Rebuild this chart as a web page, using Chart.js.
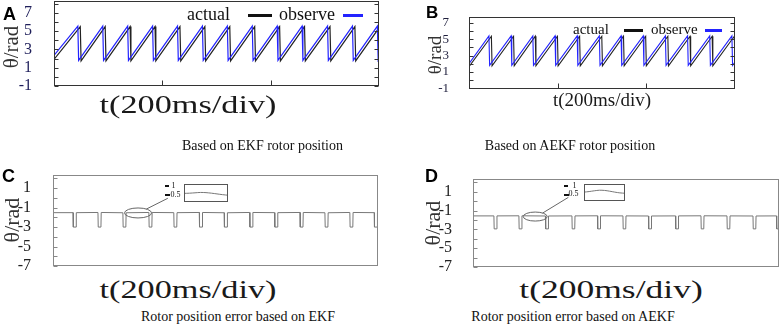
<!DOCTYPE html>
<html>
<head>
<meta charset="UTF-8">
<title>Rotor position EKF / AEKF</title>
<script src="https://cdn.jsdelivr.net/npm/chart.js@4.4.0/dist/chart.umd.min.js"></script>
<style>
  body { margin: 0; background: #fff; }
  #fig { position: relative; width: 782px; height: 331px; overflow: hidden; background: #fff;
         font-family: "Liberation Serif", "Times New Roman", serif; }
  #fig canvas { position: absolute; }
  .t { position: absolute; white-space: nowrap; line-height: 1; color: #111; }
  .letter { font-family: "Liberation Sans", Arial, sans-serif; font-weight: bold; font-size: 18px; color: #000; }
  .ytitle { transform: translate(-50%, -50%) rotate(-90deg); color: #333; }
  .center { transform: translateX(-50%); }
  .xtitle { color: #1a1a1a; transform-origin: center top; }
  .bar { position: absolute; height: 3px; }
</style>
</head>
<body>
<div id="fig">
  <canvas id="chartA" width="390" height="92" style="left:0;top:0"></canvas>
  <canvas id="chartB" width="382" height="95" style="left:400px;top:0"></canvas>
  <canvas id="chartC" width="390" height="112" style="left:0;top:160px"></canvas>
  <canvas id="chartD" width="382" height="112" style="left:400px;top:160px"></canvas>
  <canvas id="insetC" width="44" height="18" style="left:184px;top:184px"></canvas>
  <canvas id="insetD" width="41" height="17" style="left:584px;top:184px"></canvas>

  <!-- panel A -->
  <div class="t letter" style="left:3px;top:4.8px">A</div>
  <div class="t ytitle" style="left:11px;top:46.5px;font-size:21px">θ/rad</div>
  <div class="t" style="left:187px;top:4.9px;font-size:18px">actual</div>
  <div class="bar" style="left:248px;top:14px;width:24px;background:#111"></div>
  <div class="t" style="left:279px;top:4.9px;font-size:18px">observe</div>
  <div class="bar" style="left:343px;top:14px;width:20px;background:#2323ff"></div>
  <div class="t xtitle" style="left:188px;top:91.6px;font-size:25px;transform:translateX(-50%) scaleX(1.37)">t(200ms/div)</div>
  <div class="t center" style="left:262.5px;top:139px;font-size:14px">Based on EKF rotor position</div>

  <!-- panel B -->
  <div class="t letter" style="left:426px;top:3.9px;font-size:17px">B</div>
  <div class="t ytitle" style="left:433.5px;top:55px;font-size:19px">θ/rad</div>
  <div class="t" style="left:573px;top:21.9px;font-size:15px">actual</div>
  <div class="bar" style="left:624px;top:29px;width:19px;background:#111"></div>
  <div class="t" style="left:651px;top:21.9px;font-size:15px">observe</div>
  <div class="bar" style="left:705px;top:29px;width:17px;background:#2323ff"></div>
  <div class="t xtitle center" style="left:602px;top:90.4px;font-size:19px">t(200ms/div)</div>
  <div class="t center" style="left:570px;top:139px;font-size:14px">Based on AEKF rotor position</div>

  <!-- panel C -->
  <div class="t letter" style="left:2px;top:166.8px">C</div>
  <div class="t ytitle" style="left:11.5px;top:220px;font-size:22px">θ/rad</div>
  <div class="t xtitle" style="left:188px;top:276.6px;font-size:25px;transform:translateX(-50%) scaleX(1.37)">t(200ms/div)</div>
  <div class="t center" style="left:238px;top:310.3px;font-size:14px">Rotor position error based on EKF</div>
  <div class="bar" style="left:165px;top:185px;width:4px;height:2px;background:#111"></div>
  <div class="bar" style="left:165px;top:194px;width:5px;height:2px;background:#111"></div>
  <div class="t" style="left:171.5px;top:181.5px;font-size:8px">1</div>
  <div class="t" style="left:170.5px;top:190.5px;font-size:8px">0.5</div>

  <!-- panel D -->
  <div class="t letter" style="left:425px;top:166.8px">D</div>
  <div class="t ytitle" style="left:432.5px;top:222.5px;font-size:22px">θ/rad</div>
  <div class="t xtitle" style="left:611px;top:276.6px;font-size:25px;transform:translateX(-50%) scaleX(1.42)">t(200ms/div)</div>
  <div class="t center" style="left:573px;top:310.3px;font-size:14px">Rotor position error based on AEKF</div>
  <div class="bar" style="left:564px;top:185px;width:4px;height:2px;background:#111"></div>
  <div class="bar" style="left:564px;top:193.5px;width:5px;height:2px;background:#111"></div>
  <div class="t" style="left:572.5px;top:181.5px;font-size:8px">1</div>
  <div class="t" style="left:568.5px;top:190px;font-size:8px">0.5</div>
</div>

<script>
// tick labels
const posTicks = [-1, 1, 3, 5, 7];
const errTicks = [1, -1, -3, -5, -7];

// EKF rotor position (ms, rad)
const ekfObserveT = [0, 44, 45.5, 90, 91.5, 136, 137.5, 182, 183.5, 228, 229.5, 274, 275.5, 320, 321.5,
  366, 367.5, 412, 413.5, 458, 459.5, 505, 506.5, 551, 552.5, 597, 598.5, 600];
const ekfObserveV = [2.35, 5.55, 1.8, 5.55, 1.8, 5.55, 1.8, 5.55, 1.8, 5.55, 1.8, 5.55, 1.8, 5.55, 1.8,
  5.55, 1.8, 5.55, 1.8, 5.55, 1.8, 5.55, 1.8, 5.55, 1.8, 5.55, 1.8, 1.92];
const ekfActualT = [0, 48.5, 50, 94.5, 96, 140.5, 142, 186.5, 188, 232.5, 234, 278.5, 280, 324.5, 326,
  370.5, 372, 416.5, 418, 462.5, 464, 509.5, 511, 555.5, 557, 600];
const ekfActualV = [1.9, 5.5, 1.75, 5.5, 1.75, 5.5, 1.75, 5.5, 1.75, 5.5, 1.75, 5.5, 1.75, 5.5, 1.75,
  5.5, 1.75, 5.5, 1.75, 5.5, 1.75, 5.5, 1.75, 5.5, 1.75, 5.35];

// AEKF rotor position
const aekfObserveT = [0, 45, 46.5, 95, 96.5, 144, 145.5, 194, 195.5, 244, 245.5, 294, 295.5, 343, 344.5,
  393, 394.5, 443, 444.5, 493, 494.5, 543, 544.5, 593, 594.5, 600];
const aekfObserveV = [2.0, 5.4, 1.8, 5.4, 1.8, 5.4, 1.8, 5.4, 1.8, 5.4, 1.8, 5.4, 1.8, 5.4, 1.8,
  5.4, 1.8, 5.4, 1.8, 5.4, 1.8, 5.4, 1.8, 5.4, 1.8, 2.2];
const aekfActualT = [0, 50.5, 52, 100.5, 102, 149.5, 151, 199.5, 201, 249.5, 251, 299.5, 301, 348.5, 350,
  398.5, 400, 448.5, 450, 498.5, 500, 548.5, 550, 598.5, 600];
const aekfActualV = [1.65, 5.35, 1.75, 5.35, 1.75, 5.35, 1.75, 5.35, 1.75, 5.35, 1.75, 5.35, 1.75, 5.35, 1.75,
  5.35, 1.75, 5.35, 1.75, 5.35, 1.75, 5.35, 1.75, 5.35, 1.75];

// position error EKF
const ekfErrT = [0, 37, 37.5, 42.5, 43, 83, 83.5, 88.5, 89, 129, 129.5, 134.5, 135, 177, 177.5, 182.5, 183,
  223, 223.5, 228.5, 229, 270, 270.5, 275.5, 276, 316, 316.5, 321.5, 322, 363, 363.5, 368.5, 369,
  409, 409.5, 414.5, 415, 456, 456.5, 461.5, 462, 502, 502.5, 507.5, 508, 548, 548.5, 553.5, 554,
  593, 593.5, 598.5, 599, 600];
const ekfErrV = [-1.52, -1.52, -3.0, -3.0, -1.52, -1.5, -3.0, -3.0, -1.5, -1.53, -3.0, -3.0, -1.53, -1.5, -3.0, -3.0, -1.5,
  -1.52, -3.0, -3.0, -1.52, -1.5, -3.0, -3.0, -1.5, -1.53, -3.0, -3.0, -1.53, -1.5, -3.0, -3.0, -1.5,
  -1.52, -3.0, -3.0, -1.52, -1.5, -3.0, -3.0, -1.5, -1.53, -3.0, -3.0, -1.53, -1.5, -3.0, -3.0, -1.5,
  -1.52, -3.0, -3.0, -1.52, -1.52];

// position error AEKF
const aekfErrT = [0, 41, 41.5, 46.5, 47, 90, 90.5, 95.5, 96, 142, 142.5, 147.5, 148, 194, 194.5, 199.5, 200,
  244, 244.5, 249.5, 250, 294, 294.5, 299.5, 300, 344, 344.5, 349.5, 350, 397, 397.5, 402.5, 403,
  447, 447.5, 452.5, 453, 498, 498.5, 503.5, 504, 549, 549.5, 554.5, 555, 595, 595.5, 599.5, 600];
const aekfErrV = [-1.57, -1.57, -2.95, -2.95, -1.57, -1.56, -2.95, -2.95, -1.56, -1.58, -2.95, -2.95, -1.58, -1.57, -2.95, -2.95, -1.57,
  -1.56, -2.95, -2.95, -1.56, -1.57, -2.95, -2.95, -1.57, -1.58, -2.95, -2.95, -1.58, -1.57, -2.95, -2.95, -1.57,
  -1.56, -2.95, -2.95, -1.56, -1.57, -2.95, -2.95, -1.57, -1.58, -2.95, -2.95, -1.58, -1.57, -2.95, -2.95, -1.57];

// zoomed insets
const insetT = [0, 1, 2, 3, 4, 5, 6, 7, 8];
const ekfZoomV = [0.6, 0.61, 0.63, 0.65, 0.64, 0.61, 0.57, 0.53, 0.5];
const aekfZoomV = [0.62, 0.65, 0.69, 0.72, 0.71, 0.67, 0.62, 0.58, 0.56];

const serif = '"Liberation Serif", "Times New Roman", serif';

function pts(t, v) {
  return t.map((x, i) => ({ x: x, y: v[i] }));
}

// box, inner tick marks and the zoom ellipse
const frame = {
  id: 'frame',
  afterDraw(chart, args, o) {
    const { ctx, chartArea: a, scales: { x, y } } = chart;
    const l = Math.round(a.left) + 0.5, r = Math.round(a.right) - 0.5;
    const top = Math.round(a.top) + 0.5, bot = Math.round(a.bottom) - 0.5;
    ctx.save();
    ctx.strokeStyle = o.color;
    ctx.lineWidth = 1;
    ctx.strokeRect(l, top, r - l, bot - top);
    ctx.beginPath();
    if (o.tick) {
      for (let v = Math.ceil(y.min); v <= y.max; v++) {
        const py = Math.round(y.getPixelForValue(v)) + 0.5;
        ctx.moveTo(l, py); ctx.lineTo(l + o.tick, py);
        if (o.mirror) { ctx.moveTo(r, py); ctx.lineTo(r - o.tick, py); }
      }
    }
    (o.xTicks || []).forEach(t => {
      const px = Math.round(x.getPixelForValue(t)) + 0.5;
      ctx.moveTo(px, bot); ctx.lineTo(px, bot - o.tick - 1);
    });
    ctx.stroke();
    if (o.zoom) {
      const z = o.zoom;
      const cx = x.getPixelForValue(z.t), cy = y.getPixelForValue(z.v);
      ctx.strokeStyle = '#666';
      ctx.beginPath();
      ctx.ellipse(cx, cy, z.rx, z.ry, 0, 0, Math.PI * 2);
      ctx.moveTo(cx + z.rx * Math.cos(-0.9), cy + z.ry * Math.sin(-0.9));
      ctx.lineTo(x.getPixelForValue(z.endT), y.getPixelForValue(z.endV));
      ctx.stroke();
    }
    ctx.restore();
  }
};

function makePanel(id, c) {
  new Chart(document.getElementById(id), {
    type: 'line',
    data: {
      datasets: c.series.map(s => ({
        data: pts(s.t, s.v),
        borderColor: s.color,
        borderWidth: s.width,
        pointRadius: 0,
        tension: 0,
        fill: false
      }))
    },
    options: {
      responsive: false,
      animation: false,
      events: [],
      layout: { padding: c.pad },
      plugins: { legend: { display: false }, tooltip: { enabled: false }, frame: c.frame },
      scales: {
        x: {
          type: 'linear', min: 0, max: 600,
          ticks: { display: false }, grid: { display: false }, border: { display: false },
          afterFit: s => { s.height = c.xh; s.paddingLeft = 0; s.paddingRight = 0; }
        },
        y: {
          min: c.ymin, max: c.ymax,
          grid: { display: false }, border: { display: false },
          afterBuildTicks: s => { s.ticks = c.labels.map(v => ({ value: v })); },
          ticks: {
            autoSkip: false,
            font: { family: serif, size: c.fs },
            color: c.tc, padding: c.tp,
            callback: v => String(v)
          },
          afterFit: s => { s.width = c.yw; s.paddingTop = 0; s.paddingBottom = 0; }
        }
      }
    },
    plugins: [frame]
  });
}

function makeInset(id, vals, ymin, ymax) {
  new Chart(document.getElementById(id), {
    type: 'line',
    data: { datasets: [{ data: pts(insetT, vals), borderColor: '#777', borderWidth: 1, pointRadius: 0, tension: 0.3 }] },
    options: {
      responsive: false, animation: false, events: [],
      layout: { padding: 0 },
      plugins: { legend: { display: false }, tooltip: { enabled: false }, frame: { color: '#555', tick: 0 } },
      scales: {
        x: { type: 'linear', min: 0, max: 8, display: false },
        y: { min: ymin, max: ymax, display: false }
      }
    },
    plugins: [frame]
  });
}

makePanel('chartA', {
  series: [
    { t: ekfObserveT, v: ekfObserveV, color: '#2323ff', width: 1.2 },
    { t: ekfActualT, v: ekfActualV, color: '#222', width: 1.2 }
  ],
  pad: { top: 1, right: 11, left: 0, bottom: 0 }, yw: 54, xh: 6,
  ymin: -1, ymax: 8.3, labels: posTicks, fs: 16, tc: '#1e1e5a', tp: 14,
  frame: { color: '#333', tick: 4, mirror: true, xTicks: [200, 400] }
});

makePanel('chartB', {
  series: [
    { t: aekfObserveT, v: aekfObserveV, color: '#2323ff', width: 1.1 },
    { t: aekfActualT, v: aekfActualV, color: '#222', width: 1.1 }
  ],
  pad: { top: 17, right: 47, left: 0, bottom: 0 }, yw: 69, xh: 6,
  ymin: -1.08, ymax: 7.7, labels: posTicks, fs: 13, tc: '#1e1e3c', tp: 12,
  frame: { color: '#333', tick: 4, mirror: true, xTicks: [200, 400] }
});

makePanel('chartC', {
  series: [{ t: ekfErrT, v: ekfErrV, color: '#777', width: 1 }],
  pad: { top: 15, right: 12, left: 0, bottom: 0 }, yw: 53, xh: 6,
  ymin: -7, ymax: 2.35, labels: errTicks, fs: 16, tc: '#222', tp: 14,
  frame: { color: '#888', tick: 4, zoom: { t: 157, v: -1.55, rx: 13.5, ry: 5, endT: 212, endV: -0.04 } }
});

makePanel('chartD', {
  series: [{ t: aekfErrT, v: aekfErrV, color: '#777', width: 1 }],
  pad: { top: 19, right: 3, left: 0, bottom: 0 }, yw: 73, xh: 5,
  ymin: -7, ymax: 2.35, labels: errTicks, fs: 16, tc: '#222', tp: 13,
  frame: { color: '#888', tick: 4, zoom: { t: 122, v: -1.64, rx: 12, ry: 4.5, endT: 187, endV: 0.4 } }
});

makeInset('insetC', ekfZoomV, 0.13, 1.11);
makeInset('insetD', aekfZoomV, 0.15, 1.05);
</script>
</body>
</html>
